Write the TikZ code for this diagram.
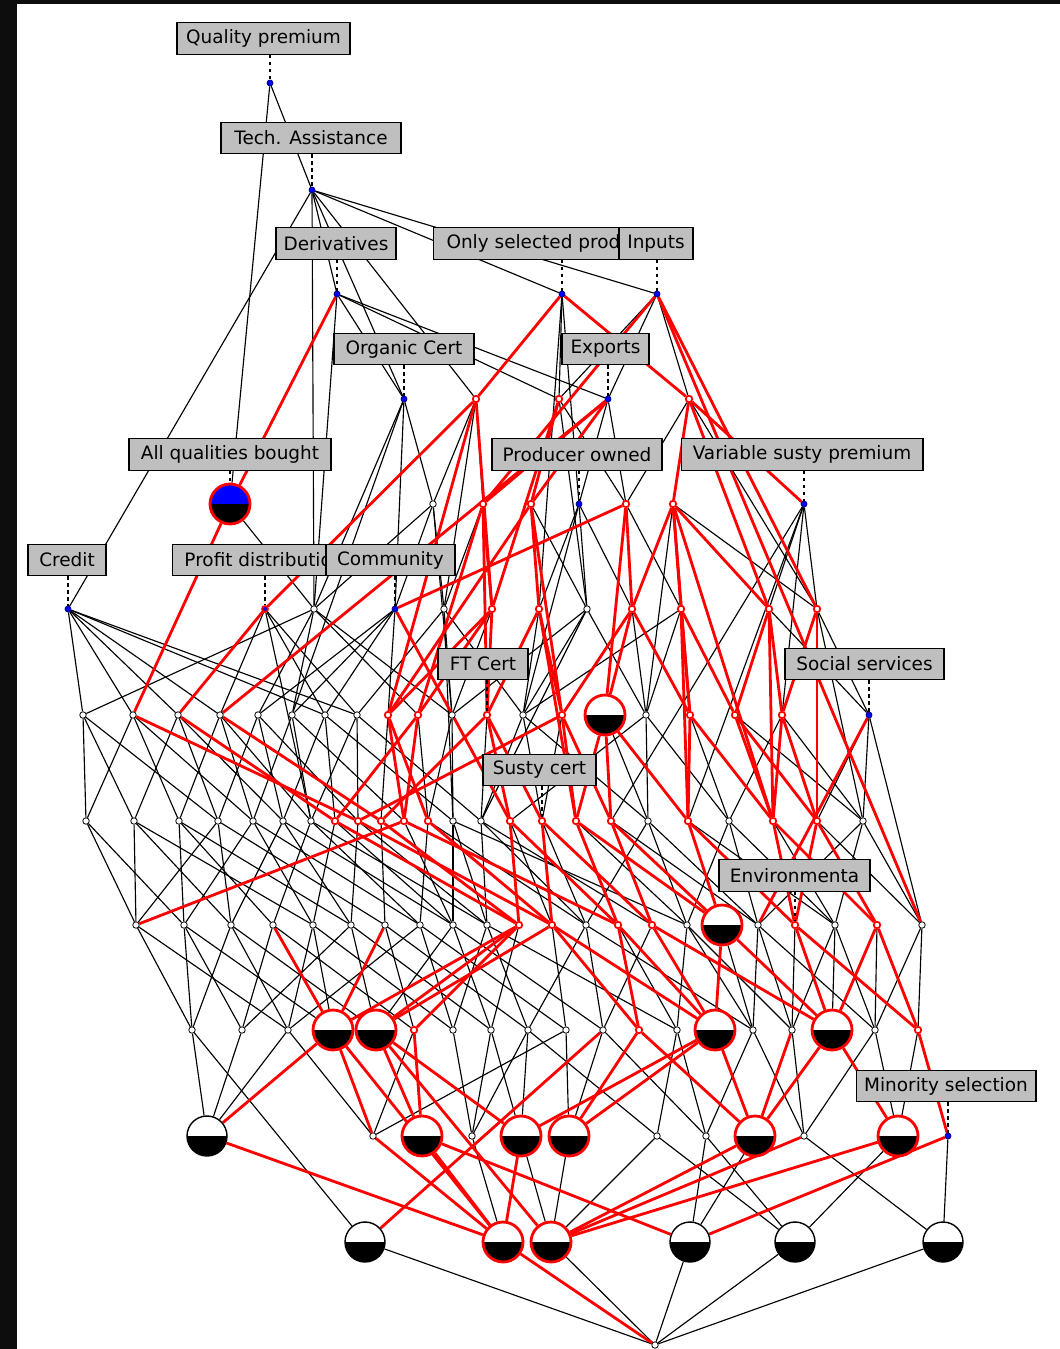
\documentclass[tikz,border=0pt]{standalone}
\usepackage{fontspec}
\newfontfamily\labfont{DejaVu Sans}
\usetikzlibrary{backgrounds}
\tikzstyle{sn}    = [circle, draw=black, fill=white, line width=0.45pt, inner sep=0pt, minimum size=0.13cm]
\tikzstyle{sr}    = [sn, draw=red, line width=1pt]
\tikzstyle{sb}    = [sn, fill=blue, draw=blue!50!black, minimum size=0.12cm]
\tikzstyle{sbr}   = [sb, draw=red, line width=1pt]
\tikzstyle{bw}    = [circle, draw=black, fill=white, line width=0.8pt, inner sep=0pt, minimum size=0.8cm,
                     path picture={\fill[black] (path picture bounding box.west) rectangle (path picture bounding box.south east);}]
\tikzstyle{br}    = [bw, draw=red, line width=1.6pt]
\tikzstyle{bq}    = [br, fill=blue]
\tikzstyle{lab}   = [rectangle, draw=black, fill=black!25, line width=0.6pt, font=\labfont\fontsize{10.5}{12}\selectfont,
                     minimum height=18pt, inner xsep=4pt, inner ysep=0pt]
\tikzstyle{edge}  = [draw=black, line width=0.65pt]
\tikzstyle{redge} = [draw=red, line width=1.6pt]
\tikzstyle{tag}   = [draw=black, line width=0.6pt, dash pattern=on 2pt off 2pt]

\begin{document}
\begin{tikzpicture}[x=0.02cm, y=-0.02cm]
  \useasboundingbox (0,0) rectangle (1060,1349);

  % lattice nodes, level by level
  \node (a1) [sb] at (270,83) {};
  \node (b1) [sb] at (312,190) {};
  \foreach \n/\x/\s in {c1/337/sb, c2/562/sb, c3/657/sb}
    \node (\n) [\s] at (\x,294) {};
  \foreach \n/\x/\s in {d1/404/sb, d2/476/sr, d3/559/sr, d4/608/sb, d5/689/sr}
    \node (\n) [\s] at (\x,399) {};
  \foreach \n/\x/\s in {e1/230/bq, e2/433/sn, e3/483/sr, e4/531/sr, e5/579/sb, e6/626/sr, e7/673/sr, e8/804/sb}
    \node (\n) [\s] at (\x,504) {};
  \foreach \n/\x/\s in {f1/68/sb, f2/265/sbr, f3/314/sn, f4/395/sb, f5/444/sn, f6/492/sr,
                        f7/539/sr, f8/587/sn, f9/632/sr, f10/681/sr, f11/769/sr, f12/817/sr}
    \node (\n) [\s] at (\x,609) {};
  \foreach \n/\x/\s in {g1/83/sn, g2/133/sn, g3/178/sn, g4/220/sn, g5/258/sn, g6/292/sn, g7/325/sn,
                        g8/357/sn, g9/388/sr, g10/418/sr, g11/452/sn, g12/487/sr, g13/523/sn, g14/562/sr,
                        g15/605/br, g16/646/sn, g17/690/sr, g18/735/sr, g19/782/sr, g20/869/sb}
    \node (\n) [\s] at (\x,715) {};
  \foreach \n/\x/\s in {h1/86/sn, h2/134/sn, h3/179/sn, h4/218/sn, h5/253/sn, h6/283/sn, h7/311/sn,
                        h8/335/sr, h9/358/sr, h10/381/sr, h11/404/sr, h12/428/sr, h13/453/sn, h14/481/sn,
                        h15/510/sr, h16/542/sr, h17/576/sr, h18/611/sr, h19/648/sn, h20/688/sr,
                        h21/729/sn, h22/773/sr, h23/817/sr, h24/863/sn}
    \node (\n) [\s] at (\x,821) {};
  \foreach \n/\x/\s in {i1/136/sn, i2/184/sn, i3/231/sn, i4/273/sn, i5/313/sn, i6/351/sn, i7/385/sn,
                        i8/420/sn, i9/453/sn, i10/487/sn, i11/519/sr, i12/552/sr, i13/586/sn, i14/618/sr,
                        i15/652/sr, i16/687/sn, i17/722/br, i18/758/sn, i19/795/sr, i20/835/sn,
                        i21/877/sr, i22/922/sn}
    \node (\n) [\s] at (\x,925) {};
  \foreach \n/\x/\s in {j1/192/sn, j2/242/sn, j3/288/sn, j4/333/br, j5/376/br, j6/414/sr, j7/453/sn,
                        j8/491/sn, j9/528/sn, j10/566/sn, j11/603/sn, j12/639/sr, j13/677/sn, j14/715/br,
                        j15/753/sn, j16/792/sn, j17/832/br, j18/875/sn, j19/918/sr}
    \node (\n) [\s] at (\x,1030) {};
  \foreach \n/\x/\s in {k1/207/bw, k2/373/sn, k3/422/br, k4/472/sn, k5/521/br, k6/569/br, k7/657/sn,
                        k8/706/sn, k9/755/br, k10/804/sn, k11/898/br, k12/948/sb}
    \node (\n) [\s] at (\x,1136) {};
  \foreach \n/\x/\s in {l1/365/bw, l2/503/br, l3/551/br, l4/690/bw, l5/795/bw, l6/943/bw}
    \node (\n) [\s] at (\x,1242) {};
  \node (m1) [sn] at (655,1345) {};

  % attribute labels
  \node (labQ)  [lab, minimum width=3.46cm] at (263.5,38.5) {Quality premium};
  \node (labT)  [lab, minimum width=3.6cm]  at (311,138) {Tech. Assistance};
  \node (labD)  [lab, minimum width=2.4cm]  at (336,243.5) {Derivatives};
  \node (labO)  [lab, anchor=west, inner xsep=7.4pt] at (433,243.5) {Only selected prod};
  \node (labI)  [lab, minimum width=1.48cm] at (656,243.5) {Inputs};
  \node (labOC) [lab, minimum width=2.8cm]  at (404,349) {Organic Cert};
  \node (labE)  [lab, minimum width=1.74cm] at (605.5,349) {Exports};
  \node (labP)  [lab, minimum width=3.4cm]  at (577,454.5) {Producer owned};
  \node (labV)  [lab, minimum width=4.84cm] at (802,454.5) {Variable susty premium};
  \node (labA)  [lab, minimum width=4.04cm] at (230,454.5) {All qualities bought};
  \node (labC)  [lab, minimum width=1.56cm] at (67,560) {Credit};
  \node (labPD) [lab, anchor=west, inner xsep=6.8pt] at (172,560) {Profit distributio};
  \node (labCo) [lab, minimum width=2.58cm] at (390.5,560) {Community};
  \node (labF)  [lab, minimum width=1.8cm]  at (483,664) {FT Cert};
  \node (labS)  [lab, minimum width=3.18cm] at (864.5,664) {Social services};
  \node (labSu) [lab, minimum width=2.26cm] at (539.5,770) {Susty cert};
  \node (labEn) [lab, minimum width=3.02cm] at (794.5,875.5) {Environmenta};
  \node (labM)  [lab, minimum width=3.6cm]  at (946,1086) {Minority selection};

  \begin{scope}[on background layer]
    \fill[white] (0,0) rectangle (1060,1349);
    \fill[black!95] (0,0) rectangle (17,1349);
    \fill[black!95] (0,0) rectangle (1060,4);

    % black edges
    \foreach \u/\v in {a1/b1, a1/e1,
        b1/c1, b1/c2, b1/c3, b1/d1, b1/d2, b1/f1, b1/f3,
        c1/d1, c1/d3, c1/d4, c1/f3, c2/d3, c2/e5, c2/f7, c3/d3, c3/d4, c3/d5,
        d1/e2, d1/f3, d1/f4, d1/g6, d2/e2, d2/f5, d2/e3, d3/e6, d3/f8, d4/e5, d4/e6,
        d5/e6, d5/e7, d5/f12,
        e1/f3, e2/f3, e2/f4, e2/f5, e2/g11, e3/f5, e4/f8, e5/f7, e5/f8, e5/f9, e5/g13,
        e6/f10, e7/f12, e7/g16, e8/f11, e8/f12, e8/g19, e8/h18, e8/h20,
        f1/g1, f1/g2, f1/g3, f1/g4, f1/g7, f1/g8, f2/g4, f2/g7, f2/g8, f2/h7,
        f3/g1, f3/g5, f3/g6, f3/g10, f3/g11, f4/g5, f4/g6, f4/g7, f4/g9,
        f5/g8, f5/g11, f5/g13, f5/h13, f6/g11, f7/g13, f8/g11, f8/g13, f8/g16, f8/h14,
        f9/g16, f10/g13, f10/g16, f11/g20, f12/g20, f12/h24,
        g1/h1, g1/h2, g1/h4, g2/h1, g2/h3, g2/h5, g3/h2, g3/h4, g3/h6, g4/h3, g4/h5, g4/h7,
        g5/h4, g5/h6, g5/h9, g6/h5, g6/h7, g6/h11, g7/h6, g7/h8, g7/h13, g8/h7, g8/h9, g8/h14,
        g9/h10, g10/h12, g11/h12, g11/h13, g11/h15, g12/h14, g13/h14, g13/h16, g13/h19,
        g14/h16, g15/h19, g16/h15, g16/h19, g16/h21, g17/h21, g18/h24, g19/h21, g19/h24,
        g20/h23, g20/h24, g20/i22,
        h1/i1, h1/i2, h2/i1, h2/i3, h2/i5, h3/i2, h3/i4, h3/i6, h4/i1, h4/i3, h4/i7,
        h5/i2, h5/i5, h5/i8, h6/i3, h6/i6, h6/i9, h7/i4, h7/i8, h7/i10, h8/i5, h8/i9,
        h9/i6, h9/i10, h10/i7, h11/i9, h12/i8, h12/i13, h13/i9, h13/i10, h13/i16,
        h14/i10, h14/i13, h14/i15, h15/i12, h16/i13, h17/i16, h18/i18,
        h19/i13, h19/i16, h19/i18, h20/i20, h21/i16, h21/i18, h21/i20, h22/i20, h23/i22,
        h24/i18, h24/i20, h24/i22,
        i1/j1, i1/j3, i2/j1, i2/j2, i2/j4, i3/j1, i3/j3, i3/j5, i4/j2, i4/j6,
        i5/j3, i5/j4, i5/j7, i6/j2, i6/j5, i6/j8, i7/j6, i7/j9, i8/j3, i8/j7, i8/j10,
        i9/j5, i9/j8, i9/j11, i10/j7, i10/j9, i10/j13, i11/j8, i12/j10,
        i13/j9, i13/j11, i13/j15, i14/j13, i15/j11, i16/j13, i16/j15, i16/j16, i17/j15,
        i18/j15, i18/j16, i18/j18, i19/j16, i20/j16, i20/j17, i20/j18, i21/j18, i22/j18, i22/j19,
        j1/k1, j1/l1, j2/k1, j3/k1, j3/k2, j6/k2, j7/k4, j8/k4, j8/k5, j9/k4, j9/k5, j9/k7,
        j10/k6, j10/k2, j11/k6, j11/k8, j13/k7, j13/k8, j15/k8, j15/k10, j16/k10,
        j18/k10, j18/k11, j19/k11,
        k4/l2, k5/l3, k6/l3, k7/l3, k7/l5, k8/l4, k8/l5, k9/l4, k10/l6, k11/l5, k12/l6,
        l1/m1, l3/m1, l4/m1, l5/m1, l6/m1}
      \draw[edge] (\u) -- (\v);

    % highlighted edges
    \foreach \u/\v in {c1/e1, e1/g2, c2/d2, d2/f2, c2/d5, c3/e3, c3/f12, c3/i22,
        d2/f6, d2/g9, d3/e4, d3/f6, d4/e3, d4/e4, d4/g4, d5/e8, d5/f11, d5/e7,
        e3/f6, e3/g10, e3/g12, e4/f7, e4/g14, e4/g9, e6/f9, e6/f4, e6/g15,
        e7/f10, e7/f11, e7/f9, e7/g17, e7/h22,
        f2/g3, f4/h15, f6/g9, f6/g12, f6/g10, f7/g12, f7/g14, f7/h17,
        f9/g14, f9/g15, f9/g17, f10/g17, f10/g18, f10/h20, f11/g18, f11/g19, f11/h22,
        f12/g19, f12/h23,
        g2/h9, g3/h8, g4/h10, g9/h11, g9/h12, g10/h11, g10/h8, g12/h15, g12/h16, g12/h10,
        g14/h17, g14/h18, g14/h9, g15/h18, g15/h20, g15/h17, g17/h20, g17/h22,
        g18/h22, g18/h23, g19/h23, g19/h22, g20/i18,
        h8/i11, h9/i12, h10/i11, h11/i1, h11/i14, h12/i12, h15/i11, h15/i14,
        h16/i12, h16/i15, h17/i14, h17/i17, h18/i15, h18/i17, h20/i17, h20/i19,
        h22/i19, h22/i21, h23/i21, h23/i19,
        i4/j4, i7/j4, i11/j4, i11/j5, i11/j6, i12/j5, i12/j12, i12/j14, i14/j12, i14/j14,
        i15/j14, i15/j17, i17/j14, i17/j17, i19/j17, i19/j19, i21/j19, i21/j17,
        j4/k1, j4/k2, j4/l2, j5/k5, j5/l3, j5/k3, j6/k3, j11/l1, j12/k6, j12/k9,
        j14/k9, j14/k5, j14/k6, j16/k9, j17/k11, j17/k9, j19/k12,
        k1/l2, k2/l2, k3/l4, k3/l2, k5/l2, k9/l3, k10/l3, k11/l3, k12/l4, l2/m1}
      \draw[redge] (\u) -- (\v);

    % label tags
    \foreach \n/\l in {a1/labQ, b1/labT, c1/labD, c2/labO, c3/labI, d1/labOC, d4/labE,
        e5/labP, e8/labV, e1/labA, f1/labC, f2/labPD, f4/labCo, g12/labF, g20/labS,
        h16/labSu, i19/labEn, k12/labM}
      \draw[tag] (\n |- \l.south) -- (\n);
  \end{scope}
\end{tikzpicture}
\end{document}
